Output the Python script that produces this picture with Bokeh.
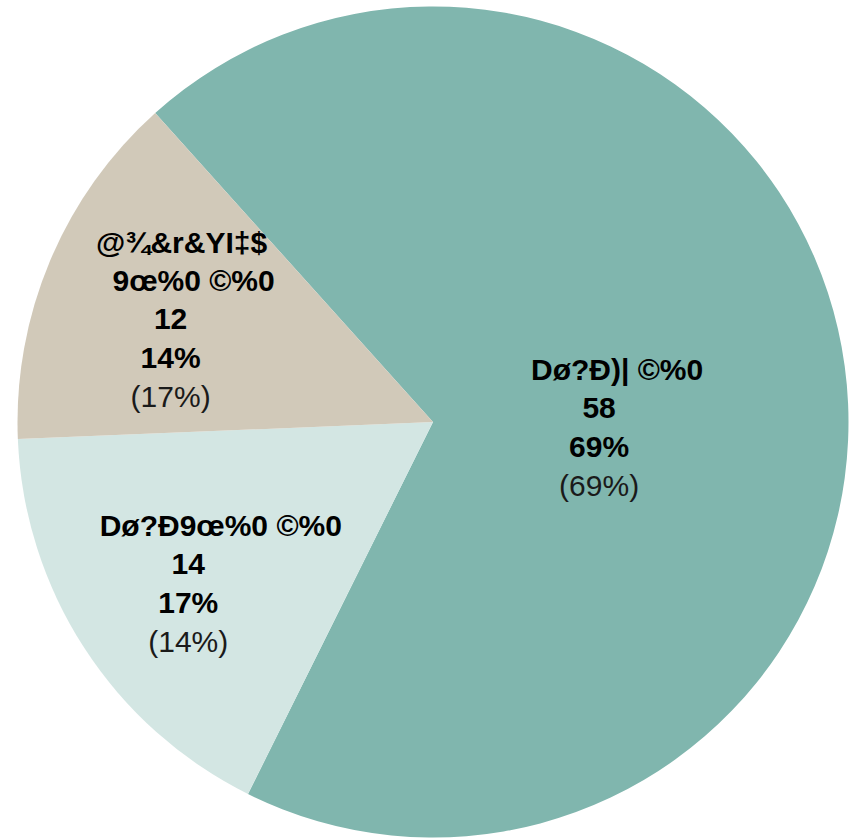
import math
from bokeh.plotting import figure
from bokeh.models import Range1d, ColumnDataSource
from bokeh.core.properties import value
from bokeh.embed import file_html
from bokeh.resources import INLINE

# ---- data ----
names = ["Dø?Ð)| ©%0", "Dø?Ð9œ%0 ©%0", "@¾&r&YI‡$\n9œ%0 ©%0"]
counts = [58, 14, 12]
shares = [69, 17, 14]            # bold percentages (slice sizes)
alt_shares = [69, 14, 17]        # percentages in parentheses
colors = ["#80B6AE", "#D3E6E3", "#D1C9B9"]

# ---- layout / style ----
W, H = 850, 838
CX, CY = 432.5, H - 421.5        # pie centre (data units == pixels)
R = 415.5
TEAL_END = 131.96                # degrees, where the first slice ends (ccw)
FONT = value("Liberation Sans")
FS = 30
LINE = 38.5
label_rf = [0.40, 0.706, 0.678]      # label distance as fraction of radius
label_da = [-9.6, 0.5, 1.5]          # angle nudge (deg) from slice middle
name_dx = [[18], [32.5], [11, 23]]   # rendering offsets of the name lines

p = figure(width=W, height=H, output_backend="svg", toolbar_location=None,
           x_range=Range1d(0, W), y_range=Range1d(0, H), min_border=0)
p.axis.visible = False
p.grid.visible = False
p.outline_line_color = None
p.background_fill_color = "white"
p.border_fill_color = "white"

# slices drawn clockwise from TEAL_END backwards: teal, light, beige
total = sum(shares)
starts, ends = [], []
cur = TEAL_END
for s in shares:
    span = 360.0 * s / total
    ends.append(math.radians(cur))
    starts.append(math.radians(cur - span))
    cur -= span

src = ColumnDataSource(dict(x=[CX] * 3, y=[CY] * 3, s=starts, e=ends, c=colors))
p.wedge(x="x", y="y", radius=R, radius_units="screen", start_angle="s",
        end_angle="e", fill_color="c", line_color=None, source=src)

bx, by, bt, nx, ny, nt = [], [], [], [], [], []
for i in range(3):
    mid = math.degrees((starts[i] + ends[i]) / 2) + label_da[i]
    ax = CX + R * label_rf[i] * math.cos(math.radians(mid))
    ay = CY + R * label_rf[i] * math.sin(math.radians(mid))
    name_lines = names[i].split("\n")
    bold_lines = name_lines + [str(counts[i]), f"{shares[i]}%"]
    all_lines = bold_lines + [f"({alt_shares[i]}%)"]
    n = len(all_lines)
    for j, t in enumerate(all_lines):
        yy = ay - (j - (n - 1) / 2) * LINE
        if j < len(name_lines):
            bx.append(ax + name_dx[i][j]); by.append(yy); bt.append(t)
        elif j < len(bold_lines):
            bx.append(ax); by.append(yy); bt.append(t)
        else:
            nx.append(ax); ny.append(yy); nt.append(t)

p.text(x=bx, y=by, text=bt, text_align="center", text_baseline="middle",
       text_font=FONT, text_font_size=f"{FS}px", text_font_style="bold",
       text_color="#000000")
p.text(x=nx, y=ny, text=nt, text_align="center", text_baseline="middle",
       text_font=FONT, text_font_size=f"{FS}px", text_font_style="normal",
       text_color="#1a1a1a")

open("out.html", "w").write(file_html(p, INLINE))
